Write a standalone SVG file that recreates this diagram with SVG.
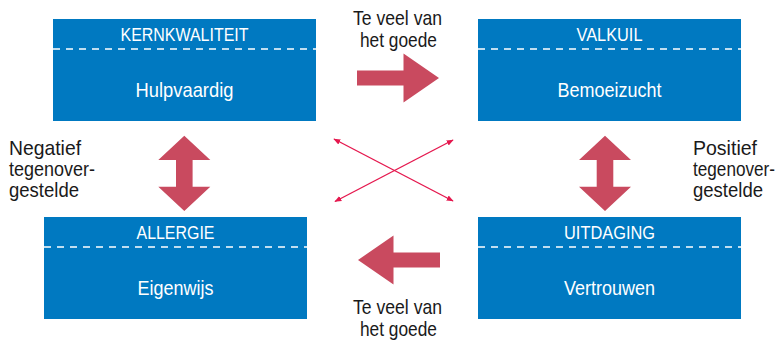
<svg xmlns="http://www.w3.org/2000/svg" width="781" height="345" viewBox="0 0 781 345">
<style>
.box{fill:#0079c1}
.dash{stroke:#ffffff;stroke-width:1.3;stroke-dasharray:7 6;fill:none}
.hd{font-family:"Liberation Sans",Arial,sans-serif;font-size:19px;fill:#ffffff;text-anchor:middle}
.bd{font-family:"Liberation Sans",Arial,sans-serif;font-size:21px;fill:#ffffff;text-anchor:middle}
.lb{font-family:"Liberation Sans",Arial,sans-serif;font-size:21px;fill:#1a1a1a}
.lbm{font-family:"Liberation Sans",Arial,sans-serif;font-size:21px;fill:#1a1a1a;text-anchor:middle}
.big{fill:#c94a5f}
.thin{stroke:#e5184e;stroke-width:1.4;fill:none;marker-start:url(#ah);marker-end:url(#ah)}
</style>
<defs>
<marker id="ah" viewBox="0 0 10 10" refX="9" refY="5" markerWidth="7" markerHeight="7" markerUnits="userSpaceOnUse" orient="auto-start-reverse">
<path d="M0,1 L10,5 L0,9 z" fill="#e5184e"/>
</marker>
</defs>
<rect width="781" height="345" fill="#ffffff"/>

<g id="kernkwaliteit">
<rect class="box" x="53" y="19" width="263" height="102"/>
<line class="dash" x1="53" y1="49" x2="316" y2="49"/>
<text class="hd" x="184.5" y="41" textLength="128" lengthAdjust="spacingAndGlyphs">KERNKWALITEIT</text>
<text class="bd" x="184.5" y="97" textLength="98" lengthAdjust="spacingAndGlyphs">Hulpvaardig</text>
</g>

<g id="valkuil">
<rect class="box" x="478" y="19" width="263" height="102"/>
<line class="dash" x1="478" y1="49" x2="741" y2="49"/>
<text class="hd" x="609.5" y="41" textLength="66" lengthAdjust="spacingAndGlyphs">VALKUIL</text>
<text class="bd" x="609.5" y="97" textLength="104" lengthAdjust="spacingAndGlyphs">Bemoeizucht</text>
</g>

<g id="allergie">
<rect class="box" x="44" y="217" width="263" height="102"/>
<line class="dash" x1="44" y1="247" x2="307" y2="247"/>
<text class="hd" x="175.5" y="239" textLength="78" lengthAdjust="spacingAndGlyphs">ALLERGIE</text>
<text class="bd" x="175.5" y="295" textLength="76" lengthAdjust="spacingAndGlyphs">Eigenwijs</text>
</g>

<g id="uitdaging">
<rect class="box" x="478" y="217" width="263" height="102"/>
<line class="dash" x1="478" y1="247" x2="741" y2="247"/>
<text class="hd" x="609.5" y="239" textLength="91" lengthAdjust="spacingAndGlyphs">UITDAGING</text>
<text class="bd" x="609.5" y="295" textLength="91" lengthAdjust="spacingAndGlyphs">Vertrouwen</text>
</g>

<g id="connectors">
<path class="big" d="M357,70.5 L403.5,70.5 L403.5,53.5 L439,78 L403.5,102.5 L403.5,85.5 L357,85.5 z"/>
<path class="big" d="M440,252.5 L393.5,252.5 L393.5,235.5 L358,260 L393.5,284.5 L393.5,267.5 L440,267.5 z"/>
<path class="big" d="M184.3,135.7 L210.3,160 L192.6,160 L192.6,186.7 L210.3,186.7 L184.3,211 L158.3,186.7 L176,186.7 L176,160 L158.3,160 z"/>
<path class="big" d="M605,135.7 L631,160 L613.3,160 L613.3,186.7 L631,186.7 L605,211 L579,186.7 L596.7,186.7 L596.7,160 L579,160 z"/>
<line class="thin" x1="334" y1="139" x2="453" y2="201"/>
<line class="thin" x1="335" y1="201.5" x2="453" y2="140"/>
</g>

<g id="labels">
<text class="lbm" x="397.5" y="25" textLength="89" lengthAdjust="spacingAndGlyphs">Te veel van</text>
<text class="lbm" x="398.5" y="47" textLength="77" lengthAdjust="spacingAndGlyphs">het goede</text>
<text class="lbm" x="397.5" y="314" textLength="89" lengthAdjust="spacingAndGlyphs">Te veel van</text>
<text class="lbm" x="398.5" y="336" textLength="77" lengthAdjust="spacingAndGlyphs">het goede</text>
<text class="lb" x="9" y="155" textLength="72" lengthAdjust="spacingAndGlyphs">Negatief</text>
<text class="lb" x="9" y="176" textLength="86" lengthAdjust="spacingAndGlyphs">tegenover-</text>
<text class="lb" x="9" y="197" textLength="70" lengthAdjust="spacingAndGlyphs">gestelde</text>
<text class="lb" x="693" y="155" textLength="64" lengthAdjust="spacingAndGlyphs">Positief</text>
<text class="lb" x="693" y="176" textLength="82" lengthAdjust="spacingAndGlyphs">tegenover-</text>
<text class="lb" x="693" y="197" textLength="70" lengthAdjust="spacingAndGlyphs">gestelde</text>
</g>
</svg>
